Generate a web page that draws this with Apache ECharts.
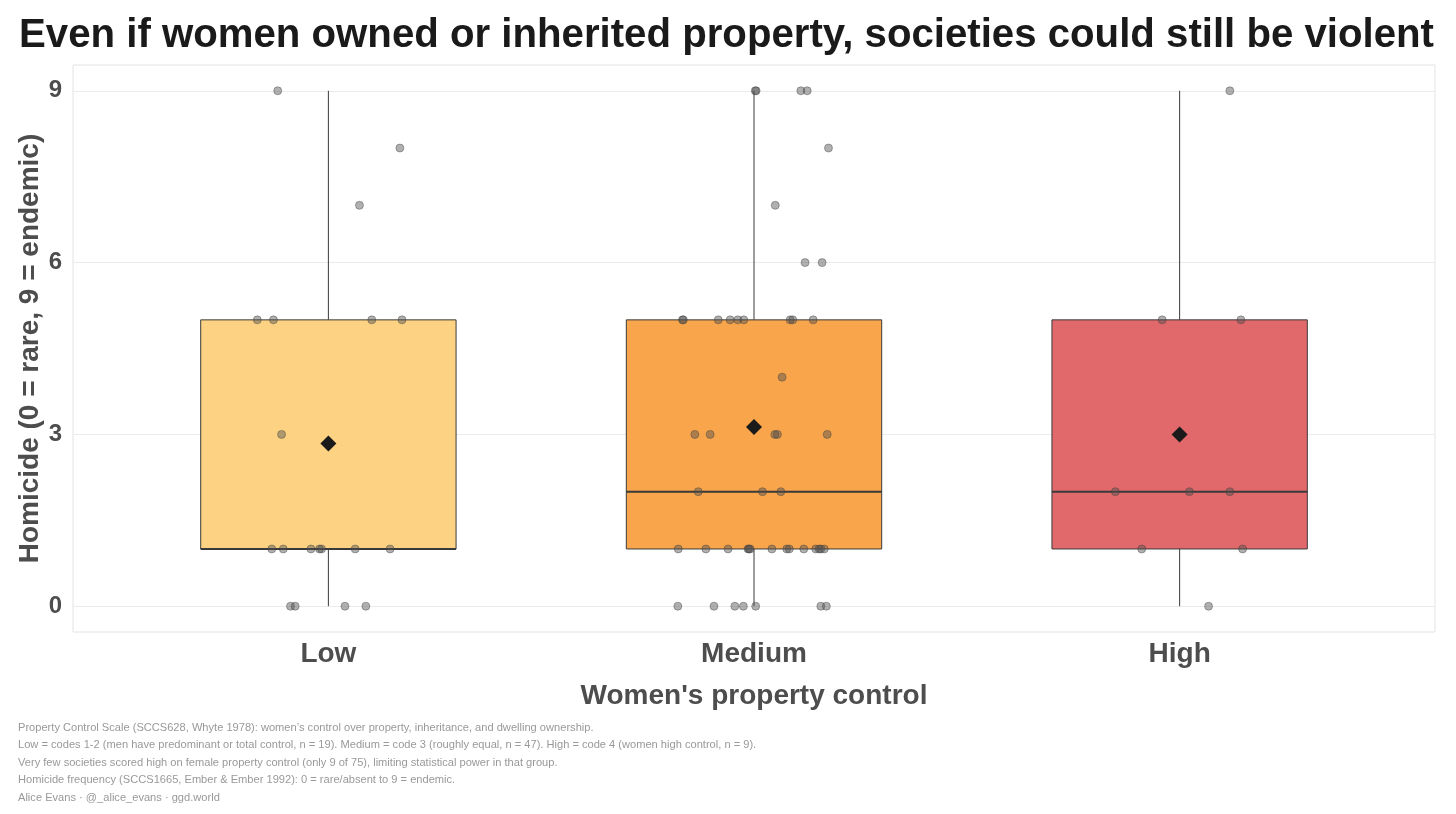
<!DOCTYPE html>
<html>
<head>
<meta charset="utf-8">
<script src="https://cdn.jsdelivr.net/npm/echarts@6/dist/echarts.min.js"></script>
<style>
html,body{margin:0;padding:0;background:#fff;}
#chart{width:1456px;height:814px;}
</style>
</head>
<body>
<div id="chart"></div>
<script>
// ---- data ----
var categories = ['Low', 'Medium', 'High'];
// [lower whisker, Q1, median, Q3, upper whisker]
var lowStats = [0, 1, 1, 5, 9];
var mediumStats = [0, 1, 2, 5, 9];
var highStats = [0, 1, 2, 5, 9];

var lowValues = [9, 8, 7, 5, 5, 5, 5, 3, 1, 1, 1, 1, 1, 1, 1, 0, 0, 0, 0];
var lowJitter = [-0.119, 0.168, 0.073, -0.167, -0.129, 0.102, 0.173, -0.110, -0.133, -0.106, -0.041, -0.021, -0.016, 0.063, 0.145, -0.089, -0.078, 0.039, 0.088];

var mediumValues = [9, 9, 9, 9, 8, 7, 6, 6,
  5, 5, 5, 5, 5, 5, 5, 5, 5, 4,
  3, 3, 3, 3, 3, 2, 2, 2,
  1, 1, 1, 1, 1, 1, 1, 1, 1, 1, 1, 1, 1, 1,
  0, 0, 0, 0, 0, 0, 0];
var mediumJitter = [0.003, 0.005, 0.110, 0.125, 0.175, 0.050, 0.120, 0.160,
  -0.168, -0.166, -0.084, -0.056, -0.038, -0.024, 0.085, 0.091, 0.139, 0.066,
  -0.139, -0.103, 0.049, 0.055, 0.172, -0.131, 0.020, 0.063,
  -0.178, -0.113, -0.061, -0.014, -0.012, -0.009, 0.042, 0.077, 0.083, 0.117, 0.145, 0.153, 0.157, 0.165,
  -0.179, -0.094, -0.045, -0.025, 0.004, 0.157, 0.170];

var highValues = [9, 5, 5, 2, 2, 2, 1, 1, 0];
var highJitter = [0.118, -0.041, 0.144, -0.151, 0.023, 0.118, -0.089, 0.148, 0.068];

var yTicks = [0, 3, 6, 9];
var xTicks = [1, 2, 3];

var titleText = 'Even if women owned or inherited property, societies could still be violent';
var yTitle = 'Homicide (0 = rare, 9 = endemic)';
var xTitle = "Women's property control";
var captionLines = [
  'Property Control Scale (SCCS628, Whyte 1978): women\u2019s control over property, inheritance, and dwelling ownership.',
  'Low = codes 1-2 (men have predominant or total control, n = 19). Medium = code 3 (roughly equal, n = 47). High = code 4 (women high control, n = 9).',
  'Very few societies scored high on female property control (only 9 of 75), limiting statistical power in that group.',
  'Homicide frequency (SCCS1665, Ember & Ember 1992): 0 = rare/absent to 9 = endemic.',
  'Alice Evans \u00b7 @_alice_evans \u00b7 ggd.world'
];

// ---- styles ----
var boxColors = ['#FDD383', '#F8A54B', '#E1696B'];
var FONT = '"Liberation Sans", Arial, Helvetica, sans-serif';

// ---- build series data ----
var stats = [lowStats, mediumStats, highStats];
var groupValues = [lowValues, mediumValues, highValues];
var groupJitter = [lowJitter, mediumJitter, highJitter];

var boxData = stats.map(function (s, i) { return [i + 1].concat(s); });
var pointData = [];
groupValues.forEach(function (vals, i) {
  vals.forEach(function (v, j) { pointData.push([i + 1 + groupJitter[i][j], v]); });
});
var meanData = groupValues.map(function (vals, i) {
  var sum = vals.reduce(function (a, b) { return a + b; }, 0);
  return [i + 1, sum / vals.length];
});

var chart = echarts.init(document.getElementById('chart'));
chart.setOption({
  animation: false,
  backgroundColor: '#ffffff',
  title: {
    text: titleText,
    left: 14,
    top: 11,
    textStyle: { fontFamily: FONT, fontSize: 40.2, fontWeight: 'bold', color: '#1a1a1a' }
  },
  grid: {
    left: 73, right: 21, top: 65, bottom: 182,
    show: true, borderColor: '#e3e3e3', borderWidth: 1, backgroundColor: 'transparent'
  },
  xAxis: {
    type: 'value',
    min: 0.4, max: 3.6,
    name: xTitle,
    nameLocation: 'middle',
    nameGap: 50,
    nameTextStyle: { fontFamily: FONT, fontSize: 28, fontWeight: 'bold', color: '#4d4d4d' },
    axisLine: { show: false },
    axisTick: { show: false, customValues: xTicks },
    splitLine: { show: false },
    axisLabel: {
      customValues: xTicks,
      margin: 8,
      fontFamily: FONT, fontSize: 28, fontWeight: 'bold', color: '#4d4d4d',
      formatter: function (v) {
        var r = Math.round(v);
        return (r >= 1 && r <= categories.length) ? categories[r - 1] : '';
      }
    }
  },
  yAxis: {
    type: 'value',
    min: -0.45, max: 9.45,
    name: yTitle,
    nameLocation: 'middle',
    nameGap: 29,
    nameMoveOverlap: false,
    nameTextStyle: { fontFamily: FONT, fontSize: 28, fontWeight: 'bold', color: '#4d4d4d' },
    axisLine: { show: false },
    axisTick: { show: false, customValues: yTicks },
    splitLine: { show: true, lineStyle: { color: '#ebebeb', width: 1 } },
    axisLabel: {
      customValues: yTicks,
      margin: 11,
      fontFamily: FONT, fontSize: 24, fontWeight: 'bold', color: '#4d4d4d'
    }
  },
  graphic: [{
    type: 'text',
    left: 18,
    top: 719,
    style: {
      text: captionLines.join('\n'),
      fontFamily: FONT,
      fontSize: 11.1,
      lineHeight: 17.5,
      fill: '#999999'
    }
  }],
  series: [
    {
      type: 'custom',
      name: 'box',
      data: boxData,
      z: 2,
      renderItem: function (params, api) {
        var x = api.value(0);
        var lo = api.value(1), q1 = api.value(2), med = api.value(3), q3 = api.value(4), hi = api.value(5);
        var halfW = api.size([0.6, 0])[0] / 2;
        var pHi = api.coord([x, hi]), pQ3 = api.coord([x, q3]), pMed = api.coord([x, med]);
        var pQ1 = api.coord([x, q1]), pLo = api.coord([x, lo]);
        var cx = pMed[0];
        var stroke = '#3a3a3a';
        return {
          type: 'group',
          children: [
            { type: 'line', shape: { x1: cx, y1: pHi[1], x2: cx, y2: pQ3[1] }, style: { stroke: stroke, lineWidth: 1 } },
            { type: 'line', shape: { x1: cx, y1: pQ1[1], x2: cx, y2: pLo[1] }, style: { stroke: stroke, lineWidth: 1 } },
            { type: 'rect', shape: { x: cx - halfW, y: pQ3[1], width: 2 * halfW, height: pQ1[1] - pQ3[1] },
              style: { fill: boxColors[params.dataIndex], stroke: stroke, lineWidth: 1 } },
            { type: 'line', shape: { x1: cx - halfW, y1: pMed[1], x2: cx + halfW, y2: pMed[1] }, style: { stroke: stroke, lineWidth: 2 } }
          ]
        };
      }
    },
    {
      type: 'scatter',
      name: 'societies',
      data: pointData,
      z: 3,
      symbol: 'circle',
      symbolSize: 8,
      itemStyle: { color: 'rgba(80,80,80,0.45)', borderColor: 'rgba(60,60,60,0.5)', borderWidth: 0.8, opacity: 1 }
    },
    {
      type: 'scatter',
      name: 'mean',
      data: meanData,
      z: 4,
      symbol: 'diamond',
      symbolSize: 16,
      itemStyle: { color: '#1a1a1a', opacity: 1 }
    }
  ]
});
</script>
</body>
</html>
